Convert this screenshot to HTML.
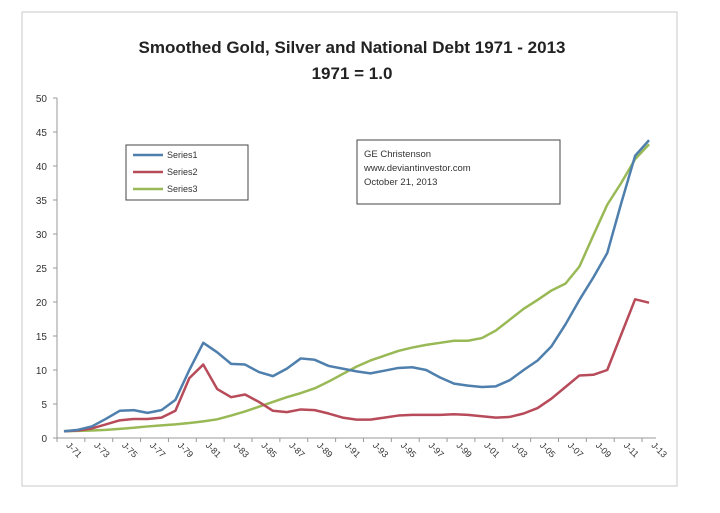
<!DOCTYPE html>
<html><head><meta charset="utf-8"><style>
body{margin:0;background:#fff;font-family:"Liberation Sans",sans-serif}
</style></head><body>
<svg id="c" width="720" height="513" style="display:block">
<rect x="22" y="12" width="655" height="474" fill="#fff" stroke="#c8c8c8"/>
<text x="352" y="53" text-anchor="middle" font-size="17" font-weight="bold" fill="#222">Smoothed Gold, Silver and National Debt 1971 - 2013</text>
<text x="352" y="79" text-anchor="middle" font-size="17" font-weight="bold" fill="#222">1971 = 1.0</text>
<g id="axes"></g><g id="series"></g>
<g>
<rect x="126" y="145" width="122" height="55" fill="#fff" stroke="#444"/>
<line x1="133" y1="155" x2="163" y2="155" stroke="#4f7fad" stroke-width="2.5"/><text x="167" y="158" font-size="9" fill="#333">Series1</text>
<line x1="133" y1="172" x2="163" y2="172" stroke="#b74b5a" stroke-width="2.5"/><text x="167" y="175" font-size="9" fill="#333">Series2</text>
<line x1="133" y1="189" x2="163" y2="189" stroke="#98b955" stroke-width="2.5"/><text x="167" y="192" font-size="9" fill="#333">Series3</text>
</g>
<g>
<rect x="357" y="140" width="203" height="64" fill="#fff" stroke="#444"/>
<text x="364" y="157" font-size="9.5" fill="#333">GE Christenson</text>
<text x="364" y="171" font-size="9.5" fill="#333">www.deviantinvestor.com</text>
<text x="364" y="185" font-size="9.5" fill="#333">October 21, 2013</text>
</g>
</svg>
<script>
const years=[];for(let y=1971;y<=2013;y++)years.push(y);
const series1=[1,1.2,1.7,2.8,4,4.1,3.7,4.1,5.6,10,14,12.6,10.9,10.8,9.7,9.1,10.2,11.7,11.5,10.6,10.2,9.8,9.5,9.9,10.3,10.4,10.0,8.9,8.0,7.7,7.5,7.6,8.5,10,11.4,13.5,16.7,20.3,23.6,27.2,34.5,41.5,43.8];
const series2=[1,1.1,1.4,2,2.6,2.8,2.8,3,4,8.8,10.8,7.2,6,6.4,5.3,4,3.8,4.2,4.1,3.6,3,2.7,2.7,3,3.3,3.4,3.4,3.4,3.5,3.4,3.2,3.0,3.1,3.6,4.4,5.8,7.5,9.2,9.3,10,15.2,20.4,19.9];
const series3=[1,1.05,1.1,1.2,1.35,1.5,1.7,1.85,2.0,2.2,2.45,2.75,3.3,3.9,4.6,5.3,6,6.6,7.3,8.3,9.4,10.5,11.4,12.1,12.8,13.3,13.7,14.0,14.3,14.3,14.7,15.8,17.4,19,20.3,21.7,22.7,25.2,29.8,34.3,37.5,41,43.2];
const yTicks=[0,5,10,15,20,25,30,35,40,45,50];
const NS="http://www.w3.org/2000/svg";
const X0=57,X1=656,Y0=438,Y1=98;
const w=(X1-X0)/years.length;
const xs=i=>X0+(i+0.5)*w, ys=v=>Y0-(v/50)*(Y0-Y1);
function mk(t,a,p){const e=document.createElementNS(NS,t);for(const k in a)e.setAttribute(k,a[k]);p.appendChild(e);return e;}
const ax=document.getElementById('axes');
const yl=mk('line',{x1:X0,y1:Y1,x2:X0,y2:Y0,stroke:'#999'},ax);


const xl=mk('line',{x1:X0,y1:Y0,x2:X1,y2:Y0,stroke:'#999'},ax);


yTicks.forEach(v=>{
  mk('line',{x1:X0-4,y1:ys(v),x2:X0,y2:ys(v),stroke:'#999'},ax);
  const t=mk('text',{x:X0-10,y:ys(v)+4,'text-anchor':'end','font-size':10,fill:'#333'},ax);
  t.textContent=v;
  
  
});
years.forEach((y,i)=>{
  if(i%2===0){
    mk('line',{x1:X0+i*w,y1:Y0,x2:X0+i*w,y2:Y0+4,stroke:'#999'},ax);
    const t=mk('text',{x:0,y:0,'font-size':9,fill:'#333','text-anchor':'end',transform:`translate(${xs(i)+6},${Y0+10}) rotate(-45) translate(0,0)`},ax);
    t.setAttribute('transform',`translate(${xs(i)+8},${Y0+14}) rotate(45)`);
    t.setAttribute('text-anchor','middle');
    t.textContent='J-'+String(y).slice(2);
    
    
  }
});
const sg=document.getElementById('series');
[[series3,'#98b955','series3-line'],[series2,'#b74b5a','series2-line'],[series1,'#4f7fad','series1-line']].forEach(([d,c,n])=>{
  const p=mk('polyline',{points:d.map((v,i)=>xs(i)+','+ys(v)).join(' '),fill:'none',stroke:c,'stroke-width':2.5,'stroke-linejoin':'round'},sg);
  
  
});
</script>
</body></html>
